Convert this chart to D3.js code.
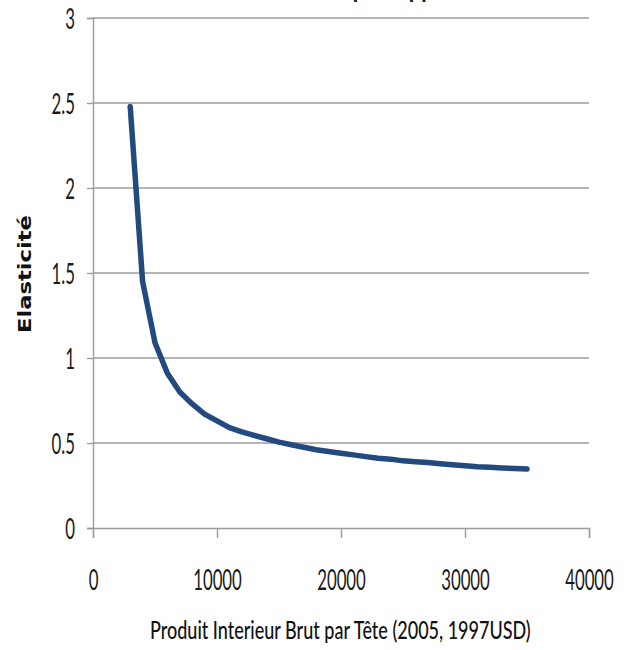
<!DOCTYPE html>
<html>
<head>
<meta charset="utf-8">
<script src="https://cdn.jsdelivr.net/npm/d3@7"></script>
<style>
  html, body { margin: 0; padding: 0; background: #fff; }
  svg { display: block; }
  .tick text { font-family: Lato, "Open Sans", sans-serif; font-size: 28px; fill: #1a1a1a; }
</style>
</head>
<body>
<svg id="chart" width="632" height="650"></svg>
<script>
// GDP per head (1997 USD) and the income elasticity estimated at each level
const gdpPerHead = [3000, 4000, 5000, 6000, 7000, 8000, 9000, 10000, 11000, 12000,
  13000, 14000, 15000, 16000, 17000, 18000, 19000, 20000, 21000, 22000, 23000,
  24000, 25000, 26000, 27000, 28000, 29000, 30000, 31000, 32000, 33000, 34000, 35000];
const elasticity = [2.48, 1.45, 1.09, 0.91, 0.80, 0.73, 0.67, 0.63, 0.59, 0.565,
  0.545, 0.525, 0.505, 0.49, 0.475, 0.46, 0.45, 0.44, 0.43, 0.42, 0.41,
  0.405, 0.395, 0.39, 0.385, 0.378, 0.372, 0.366, 0.36, 0.357, 0.353, 0.35, 0.347];
const xTicks = [0, 10000, 20000, 30000, 40000];
const yTicks = [0, 0.5, 1, 1.5, 2, 2.5, 3];
const yTickLabels = ["0", "0.5", "1", "1.5", "2", "2.5", "3"];

const chartTitle = "Elasticité de la demande par rapport au PIB";
const xTitle = "Produit Interieur Brut par Tête (2005, 1997USD)";
const yTitle = "Elasticité";

const svg = d3.select("#chart");
const margin = { left: 93, right: 43, top: 18, bottom: 122 };
const W = 632, H = 650;
const squeeze = 0.6; // narrow, tall lettering for the tick labels

const x = d3.scaleLinear().domain([0, 40000]).range([margin.left, W - margin.right]);
const y = d3.scaleLinear().domain([0, 3]).range([H - margin.bottom, margin.top]);

const gridColor = "#9c9c9c";

// horizontal gridlines
svg.append("g")
  .selectAll("line")
  .data(yTicks.slice(1))
  .join("line")
  .attr("x1", x(0)).attr("x2", x(40000))
  .attr("y1", d => y(d)).attr("y2", d => y(d))
  .attr("stroke", gridColor).attr("stroke-width", 1.4);

// y axis
const yAxis = svg.append("g")
  .attr("transform", `translate(${x(0)},0)`)
  .call(d3.axisLeft(y).tickValues(yTicks).tickFormat((d, i) => yTickLabels[i]).tickSize(6));
yAxis.select(".domain").attr("stroke", gridColor).attr("stroke-width", 1.4);
yAxis.selectAll(".tick line").attr("stroke", gridColor).attr("stroke-width", 1.4);
yAxis.selectAll(".tick text")
  .attr("x", -18 / squeeze)
  .attr("dy", "0.36em")
  .attr("transform", `scale(${squeeze},1)`);

// x axis
const xAxis = svg.append("g")
  .attr("transform", `translate(0,${y(0)})`)
  .call(d3.axisBottom(x).tickValues(xTicks).tickFormat(d3.format("d")).tickSize(10));
xAxis.select(".domain").attr("stroke", gridColor).attr("stroke-width", 1.4);
xAxis.selectAll(".tick line").attr("stroke", gridColor).attr("stroke-width", 1.4);
xAxis.selectAll(".tick text")
  .attr("y", 62)
  .attr("dy", 0)
  .attr("transform", `scale(${squeeze},1)`);

// elasticity curve
const pts = gdpPerHead.map((g, i) => [g, elasticity[i]]);
svg.append("path")
  .datum(pts)
  .attr("fill", "none")
  .attr("stroke", "#224a7e")
  .attr("stroke-width", 5.5)
  .attr("stroke-linejoin", "round")
  .attr("stroke-linecap", "round")
  .attr("d", d3.line().x(d => x(d[0])).y(d => y(d[1])));

// x axis title, narrowed to fit under the plot
const xt = svg.append("text")
  .attr("x", 0).attr("y", 0)
  .style("font-family", "Lato, 'Open Sans', sans-serif")
  .style("font-size", "24px")
  .style("font-weight", 500)
  .attr("fill", "#111")
  .text(xTitle);
const xtLen = xt.node().getComputedTextLength();
xt.attr("transform", `translate(150,639) scale(${381 / xtLen},1)`);

// y axis title
svg.append("text")
  .attr("transform", "translate(31,333) rotate(-90)")
  .attr("textLength", 118)
  .attr("lengthAdjust", "spacingAndGlyphs")
  .style("font-family", "'DejaVu Sans', sans-serif")
  .style("font-weight", "bold")
  .style("font-size", "18px")
  .attr("fill", "#111")
  .text(yTitle);

// chart title, mostly above the top edge
const title = svg.append("text")
  .attr("x", 0).attr("y", -2)
  .style("font-family", "Lato, sans-serif")
  .style("font-weight", "bold")
  .style("font-size", "22px")
  .attr("fill", "#111")
  .text(chartTitle);
const pIdx = chartTitle.indexOf("par");
const node = title.node();
const pStart = node.getStartPositionOfChar(pIdx).x;
const pWidth = node.getExtentOfChar(pIdx).width;
title.attr("x", 357 - pStart - pWidth / 2 + 2);
</script>
</body>
</html>
